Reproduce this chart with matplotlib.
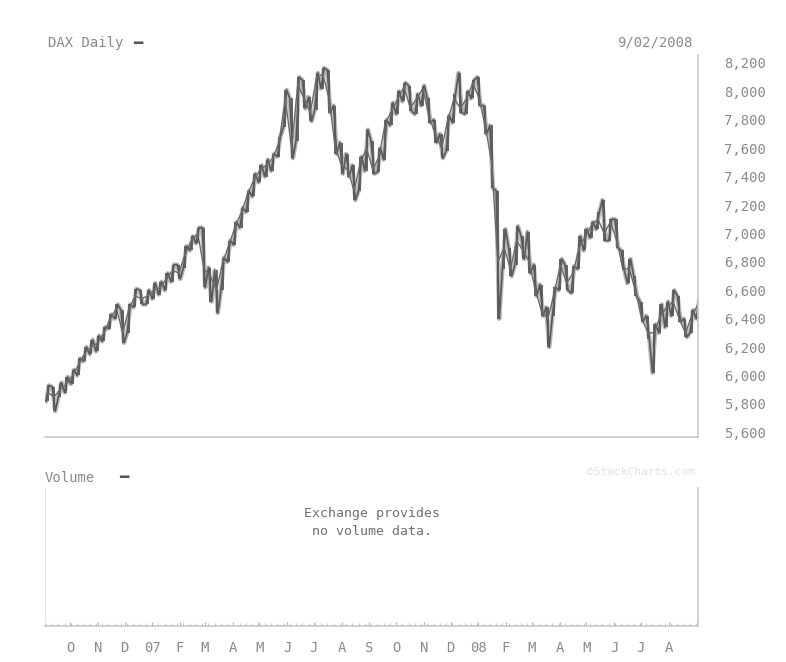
import matplotlib
matplotlib.use("Agg")
import matplotlib.pyplot as plt
import matplotlib.dates as mdates
import pandas as pd
import numpy as np

# ---------------- data (weekly readings of DAX, Sep 2006 - Sep 2008) ----------------
week_start = "2006-09-06"
close = [5880, 5850, 5900, 5940, 6000, 6080, 6160, 6200, 6230, 6300,
         6400, 6470, 6300, 6470, 6560, 6540, 6560, 6600, 6620, 6680,
         6740, 6720, 6860, 6950, 7000, 6750, 6700, 6600, 6800, 6920,
         7050, 7150, 7280, 7380, 7450, 7480, 7530, 7640, 7950, 7600,
         8050, 7950, 7850, 8100, 8120, 7950, 7600, 7480, 7450, 7300,
         7500, 7600, 7450, 7540, 7780, 7860, 7950, 8030, 7880, 7950,
         8020, 7820, 7700, 7600, 7800, 7950, 7880, 7950, 8060, 7950,
         7750, 7500, 6800, 6900, 6750, 6950, 6880, 6800, 6600, 6450,
         6400, 6580, 6780, 6650, 6720, 6900, 6980, 7060, 7100, 7000,
         7080, 6950, 6750, 6750, 6600, 6400, 6300, 6300, 6420, 6480,
         6520, 6400, 6300, 6420, 6500]
high = [5930, 5920, 5950, 5990, 6040, 6120, 6200, 6250, 6280, 6340,
        6430, 6500, 6460, 6500, 6610, 6600, 6600, 6650, 6660, 6720,
        6780, 6780, 6910, 6980, 7040, 7040, 6760, 6740, 6830, 6950,
        7080, 7180, 7300, 7420, 7480, 7520, 7560, 7680, 8010, 7950,
        8100, 8080, 7960, 8130, 8165, 8150, 7900, 7640, 7560, 7480,
        7540, 7730, 7650, 7600, 7800, 7920, 8000, 8060, 8040, 7980,
        8040, 7950, 7800, 7700, 7830, 7980, 8130, 8000, 8080, 8100,
        7900, 7760, 7300, 7030, 6900, 7050, 6980, 7010, 6780, 6640,
        6480, 6620, 6820, 6780, 6770, 6980, 7030, 7080, 7150, 7235,
        7100, 7100, 6880, 6820, 6700, 6520, 6420, 6360, 6500, 6520,
        6600, 6560, 6400, 6460, 6530]
low = [5820, 5750, 5850, 5880, 5940, 6000, 6100, 6150, 6170, 6240,
       6330, 6400, 6230, 6300, 6480, 6500, 6500, 6540, 6570, 6600,
       6660, 6680, 6760, 6880, 6930, 6620, 6520, 6440, 6600, 6800,
       6920, 7040, 7150, 7260, 7360, 7400, 7440, 7540, 7750, 7530,
       7650, 7880, 7790, 7870, 8020, 7850, 7560, 7420, 7400, 7235,
       7300, 7440, 7420, 7430, 7520, 7760, 7840, 7930, 7860, 7840,
       7900, 7780, 7640, 7530, 7580, 7780, 7850, 7840, 7950, 7900,
       7700, 7320, 6400, 6750, 6700, 6780, 6820, 6720, 6560, 6420,
       6200, 6420, 6600, 6600, 6580, 6750, 6880, 6970, 7030, 6950,
       6950, 6900, 6740, 6650, 6560, 6380, 6260, 6020, 6300, 6340,
       6420, 6380, 6270, 6300, 6400]

price_ticks = [5600, 5800, 6000, 6200, 6400, 6600, 6800, 7000,
               7200, 7400, 7600, 7800, 8000, 8200]
month_starts = pd.date_range("2006-10-01", "2008-08-01", freq="MS")
month_labels = ["O", "N", "D", "07", "F", "M", "A", "M", "J", "J", "A", "S",
                "O", "N", "D", "08", "F", "M", "A", "M", "J", "J", "A"]

title_left = "DAX Daily"
title_right = "9/02/2008"
vol_title = "Volume"
vol_msg = "Exchange provides\nno volume data."
credit = "©StockCharts.com"

dates = pd.date_range(week_start, periods=len(close), freq="7D")
x_min, x_max = pd.Timestamp("2006-09-03"), pd.Timestamp("2008-09-03")

# zig-zag path through each week's extremes (order follows the week's direction)
path_x, path_y = [], []
prev = close[0]
for d, h, l, c in zip(dates, high, low, close):
    a, b = (l, h) if c >= prev else (h, l)
    path_x += [d - pd.Timedelta(days=2), d + pd.Timedelta(days=1.5)]
    path_y += [a, b]
    prev = c

# ---------------- figure ----------------
plt.rcParams["font.family"] = ["DejaVu Sans Mono"]
txt = "#8a8a8a"
line_c = "#5a5a5a"
spine_c = "#c8c8c8"

fig = plt.figure(figsize=(7.86, 6.62), dpi=100)
fig.patch.set_facecolor("white")

ax = fig.add_axes([45/786, 1-437/662, (698-45)/786, (437-55)/662])
axv = fig.add_axes([45/786, 1-626/662, (698-45)/786, (626-488)/662])

# price
ax.plot(path_x, path_y, color="#9a9a9a", lw=3.2, alpha=0.7)
ax.vlines(dates, low, high, color=line_c, lw=1.3)
ax.plot(path_x, path_y, color=line_c, lw=1.2)
ax.plot(dates, close, color="#6a6a6a", lw=1.0)

ax.set_xlim(x_min, x_max)
ax.set_ylim(5567, 8256)
ax.yaxis.tick_right()
ax.set_yticks(price_ticks)
ax.set_yticklabels([f"{v:,}" for v in price_ticks])
ax.tick_params(axis="y", length=0, pad=19, labelsize=10, labelcolor=txt)
ax.set_xticks([])
for s in ["top", "left"]:
    ax.spines[s].set_visible(False)
for s in ["right", "bottom"]:
    ax.spines[s].set_color(spine_c)
    ax.spines[s].set_linewidth(1.2)

fig.text(48/786, 1-43/662, title_left, ha="left", va="center",
         fontsize=10, color=txt)
fig.text(133/786, 1-43/662, "━", ha="left", va="center",
         fontsize=11, color="#555555")
fig.text(692/786, 1-43/662, title_right, ha="right", va="center",
         fontsize=10, color=txt)

# volume
axv.set_xlim(x_min, x_max)
axv.set_ylim(0, 1)
axv.set_yticks([])
axv.set_xticks(month_starts)
axv.set_xticklabels(month_labels)
axv.xaxis.set_minor_locator(mdates.WeekdayLocator(byweekday=mdates.MO))
axv.tick_params(axis="x", which="major", length=3, direction="in",
                color="#b0b0b0", labelsize=10, labelcolor=txt, pad=11)
axv.tick_params(axis="x", which="minor", length=2.5, direction="in",
                color="#b8b8b8")
axv.spines["top"].set_visible(False)
axv.spines["left"].set_color("#e6e6e6")
for s in ["right", "bottom"]:
    axv.spines[s].set_color(spine_c)
    axv.spines[s].set_linewidth(1.2)
axv.text(0.5, 0.75, vol_msg, transform=axv.transAxes, ha="center",
         va="center", fontsize=9.5, color="#707070", linespacing=1.5)

fig.text(45/786, 1-478/662, vol_title, ha="left", va="center",
         fontsize=10, color=txt)
fig.text(119/786, 1-478/662, "━", ha="left", va="center",
         fontsize=11, color="#555555")
fig.text(695/786, 1-472/662, credit, ha="right", va="center",
         fontsize=8, color="#e2e2e2")

fig.savefig("out.png", dpi=100, facecolor="white")
